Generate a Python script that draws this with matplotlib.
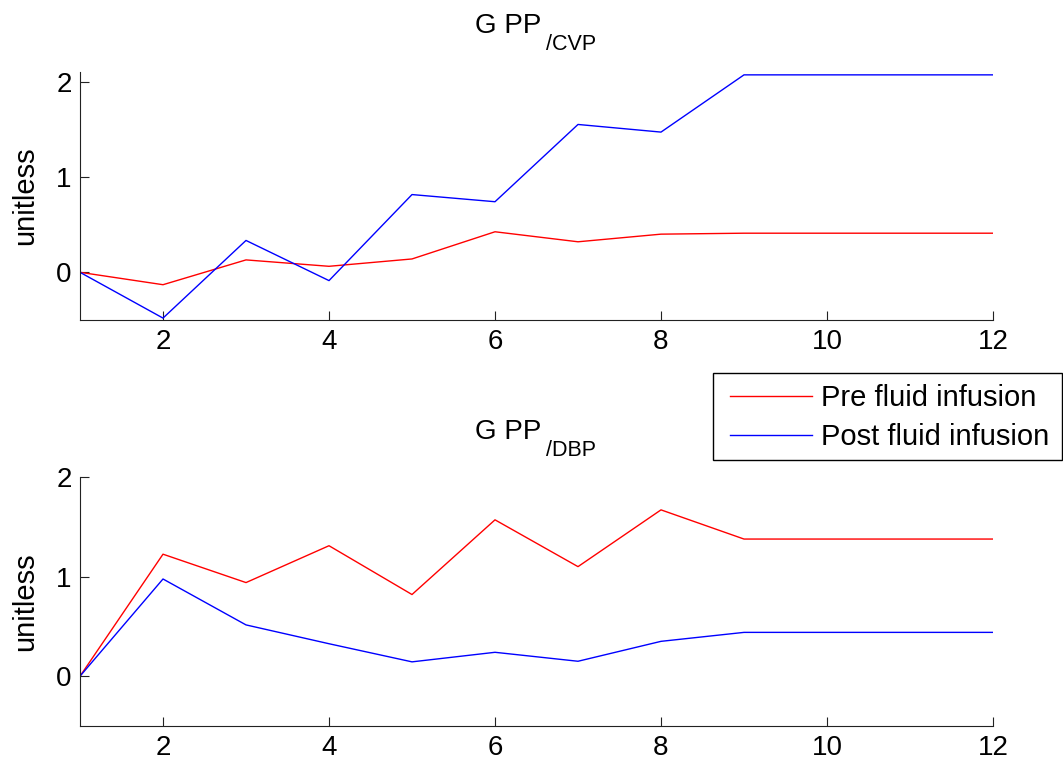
import numpy as np
import matplotlib
matplotlib.use("Agg")
import matplotlib.pyplot as plt
from matplotlib.patches import Rectangle

plt.rcParams['font.family'] = ['Liberation Sans', 'DejaVu Sans']

# sample index
x = [1, 2, 3, 4, 5, 6, 7, 8, 9, 10, 11, 12]

# G PP / CVP
cvp_pre = [0.0, -0.13, 0.13, 0.063, 0.14, 0.425, 0.32, 0.40, 0.41, 0.41, 0.41, 0.41]
cvp_post = [0.0, -0.48, 0.334, -0.087, 0.815, 0.74, 1.55, 1.47, 2.07, 2.07, 2.07, 2.07]

# G PP / DBP
dbp_pre = [0.0, 1.225, 0.94, 1.31, 0.82, 1.57, 1.10, 1.67, 1.377, 1.377, 1.377, 1.377]
dbp_post = [0.0, 0.976, 0.515, 0.326, 0.144, 0.24, 0.15, 0.35, 0.44, 0.44, 0.44, 0.44]

title_main = "G PP"
title_subs = ["/CVP", "/DBP"]
labels = ["Pre fluid infusion", "Post fluid infusion"]
ylims = [(-0.5, 2.1), (-0.5, 2.0)]

W, H = 1063, 760
fig = plt.figure(figsize=(W / 100, H / 100), dpi=100)
ax1 = fig.add_axes([80 / W, 1 - 320 / H, 913 / W, 248 / H])
ax2 = fig.add_axes([80 / W, 1 - 726 / H, 913 / W, 249 / H])

data = [(cvp_pre, cvp_post), (dbp_pre, dbp_post)]
for ax, (pre, post), yl in zip([ax1, ax2], data, ylims):
    l1, = ax.plot(x, pre, color='#ff0000', lw=1.0, label=labels[0])
    l2, = ax.plot(x, post, color='#0000ff', lw=1.0, label=labels[1])
    ax.set_xlim(1, 12)
    ax.set_ylim(*yl)
    ax.set_xticks([2, 4, 6, 8, 10, 12])
    ax.set_yticks([0, 1, 2])
    ax.spines['top'].set_visible(False)
    ax.spines['right'].set_visible(False)
    for s in ['left', 'bottom']:
        ax.spines[s].set_linewidth(0.8)
        ax.spines[s].set_color('#222222')
    ax.tick_params(direction='in', length=6.5, width=0.8, labelsize=20, color='#222222')
    ax.tick_params(axis='x', pad=6.5)
    ax.tick_params(axis='y', pad=6)
    ax.set_ylabel("unitless", fontsize=21)
    ax.yaxis.set_label_coords(-0.045, 0.5)

# titles with a MATLAB-like lowered subscript
for base_y, sub in zip([33, 439], title_subs):
    fig.text(475 / W, 1 - base_y / H, title_main, fontsize=20, va='baseline', ha='left')
    fig.text(546 / W, 1 - (base_y + 16.5) / H, sub, fontsize=15.5, va='baseline', ha='left')

# legend: entries without frame, box drawn separately to match the MATLAB legend box
leg = fig.legend([l1, l2], labels, loc='upper left',
                 bbox_to_anchor=(730 / W, 1 - 384 / H), bbox_transform=fig.transFigure,
                 fontsize=21, frameon=False, borderaxespad=0, borderpad=0,
                 handlelength=2.8, handletextpad=0.32, labelspacing=0.39)
fig.add_artist(Rectangle((713 / W, 1 - 460 / H), 349 / W, 87 / H, transform=fig.transFigure,
                         fill=False, edgecolor='black', linewidth=1.0))

fig.savefig("out.png", dpi=100)
